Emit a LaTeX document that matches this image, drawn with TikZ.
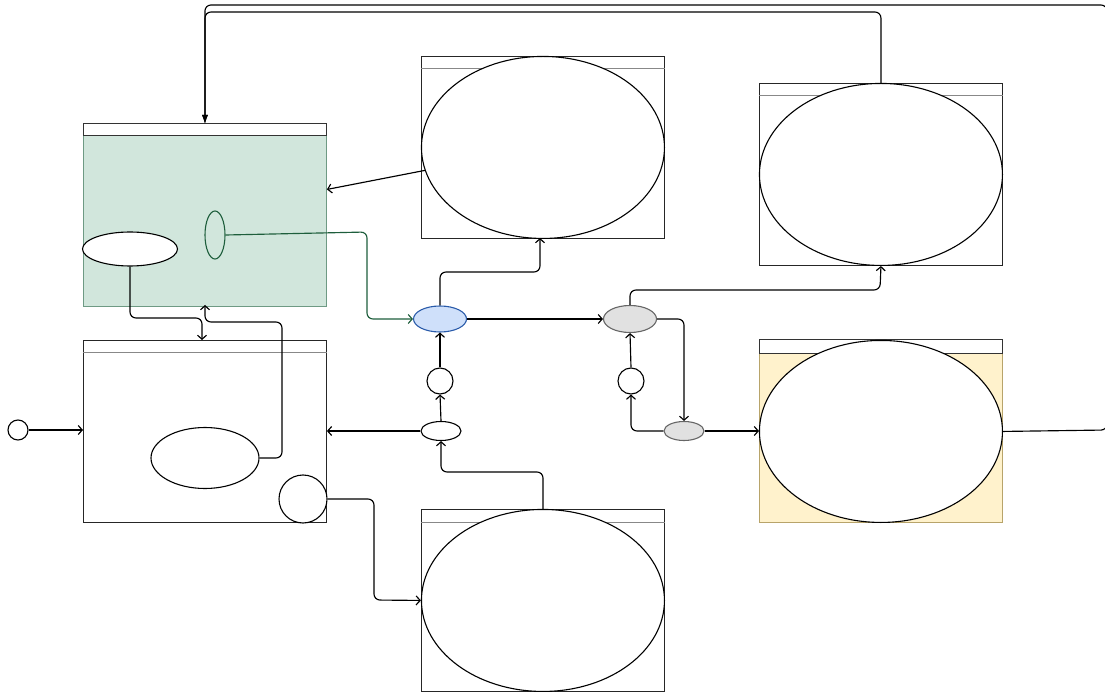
\documentclass[tikz,border=0pt]{standalone}
\usetikzlibrary{shapes.geometric,arrows.meta}
\definecolor{grfill}{HTML}{D1E6DC}
\definecolor{grbord}{HTML}{6E9A84}
\definecolor{grline}{HTML}{1E5E3C}
\definecolor{yefill}{HTML}{FFF2CC}
\definecolor{yebord}{HTML}{B8A46A}
\definecolor{blfill}{HTML}{CFE0FA}
\definecolor{blbord}{HTML}{2A5BAA}
\definecolor{gyfill}{HTML}{E1E1E1}
\definecolor{gybord}{HTML}{666666}
\definecolor{hdrline}{HTML}{888888}
\tikzset{
  box/.style={draw=black!85, line width=0.9pt, minimum width=243, minimum height=182, anchor=north west, inner sep=0pt},
  hdr/.style={draw=hdrline, line width=1pt},
  ell/.style={ellipse, draw=black, line width=1.1pt, fill=white, inner sep=0pt},
  bigell/.style={ell, minimum width=243, minimum height=182},
  arr/.style={draw=black, line width=1.15pt, rounded corners=6pt, -{Straight Barb[length=4pt,width=9pt]}},
  farr/.style={draw=black, line width=1.15pt, rounded corners=6pt, -{Latex[length=9pt,width=6pt]}},
}
\begin{document}
\begin{tikzpicture}[x=1pt,y=-1pt]
\useasboundingbox[fill=white] (0,0) rectangle (1105,692);

% green box
\node[box, fill=grfill, draw=grbord] (gbox) at (83,124) {};
\draw[hdr, fill=white, draw=black!80] (gbox.north west) rectangle ([yshift=-12pt]gbox.north east);
\node[ell, minimum width=95, minimum height=34] (gA) at (130,249) {};
\node[ell, draw=grline, fill=none, minimum width=20, minimum height=48] (gE) at (215,235) {};

% box 2
\node[box] (b2) at (83,340) {};
\draw[hdr] ([yshift=-12pt]b2.north west) -- ([yshift=-12pt]b2.north east);
\node[ell, minimum width=108, minimum height=61] (b2E) at (205,458) {};
\node[ell, circle, minimum size=48] (b2C) at (303,499) {};
\node[ell, circle, minimum size=20] (start) at (18,430) {};

% top-center box
\node[box] (tc) at (421,56) {};
\draw[hdr] ([yshift=-13pt]tc.north west) -- ([yshift=-13pt]tc.north east);
\node[bigell] (tcE) at (tc.center) {};

% top-right box
\node[box] (tr) at (759,83) {};
\draw[hdr] ([yshift=-13pt]tr.north west) -- ([yshift=-13pt]tr.north east);
\node[bigell] (trE) at (tr.center) {};

% bottom-center box
\node[box] (bc) at (421,509) {};
\draw[hdr] ([yshift=-13pt]bc.north west) -- ([yshift=-13pt]bc.north east);
\node[bigell] (bcE) at (bc.center) {};

% yellow box
\node[box, fill=yefill, draw=yebord] (ye) at (759,340) {};
\draw[hdr, fill=white, draw=black!80] (ye.north west) rectangle ([yshift=-13pt]ye.north east);
\node[bigell] (yeE) at (ye.center) {};

% middle small nodes
\node[ell, fill=blfill, draw=blbord, minimum width=53, minimum height=26] (bl) at (440,319) {};
\node[ell, fill=gyfill, draw=gybord, minimum width=53, minimum height=27] (gy) at (630,319) {};
\node[ell, fill=gyfill, draw=gybord, minimum width=40, minimum height=19] (gys) at (684,431) {};
\node[ell, circle, minimum size=26] (c1) at (440,381) {};
\node[ell, minimum width=40, minimum height=19] (s1) at (441,431) {};
\node[ell, circle, minimum size=26] (c2) at (631,381) {};

% connectors
\draw[arr] (start.east) -- (b2.west |- start.east);
\draw[arr] (tcE.191) -- ([yshift=26pt]gbox.east);
\draw[arr, draw=grline] (gE.east) -- (367,232) |- (bl.west);
\draw[arr] (gA.south) |- (202,318) -- (202,340);
\draw[arr] (b2E.east) -| (282,322) -| (205,305);
\draw[arr] (bl.east) -- (gy.west);
\draw[arr] (bl.north) |- (540,272) -- (540,238);
\draw[arr] (c1.north) -- (bl.south);
\draw[arr] (s1.north) -- (c1.south);
\draw[arr] (s1.west) -- (b2.east |- s1.west);
\draw[arr] (543,509) |- (441,472) -- (s1.south);
\draw[arr] (b2C.east) -| (374,600) -- (bcE.west);
\draw[arr] (gy.north) |- (880,290) -- (trE.south);
\draw[arr] (gy.east) -| (gys.north);
\draw[arr] (gys.west) -| (c2.south);
\draw[arr] (c2.north) -- (gy.south);
\draw[arr] (gys.east) -- (ye.west |- gys.east);
\draw[farr] (trE.north) |- (205,12) -- (gbox.north);
\draw[farr] (yeE.east) -- (1107,430) -- (1107,5) -| (gbox.north);
\end{tikzpicture}
\end{document}
